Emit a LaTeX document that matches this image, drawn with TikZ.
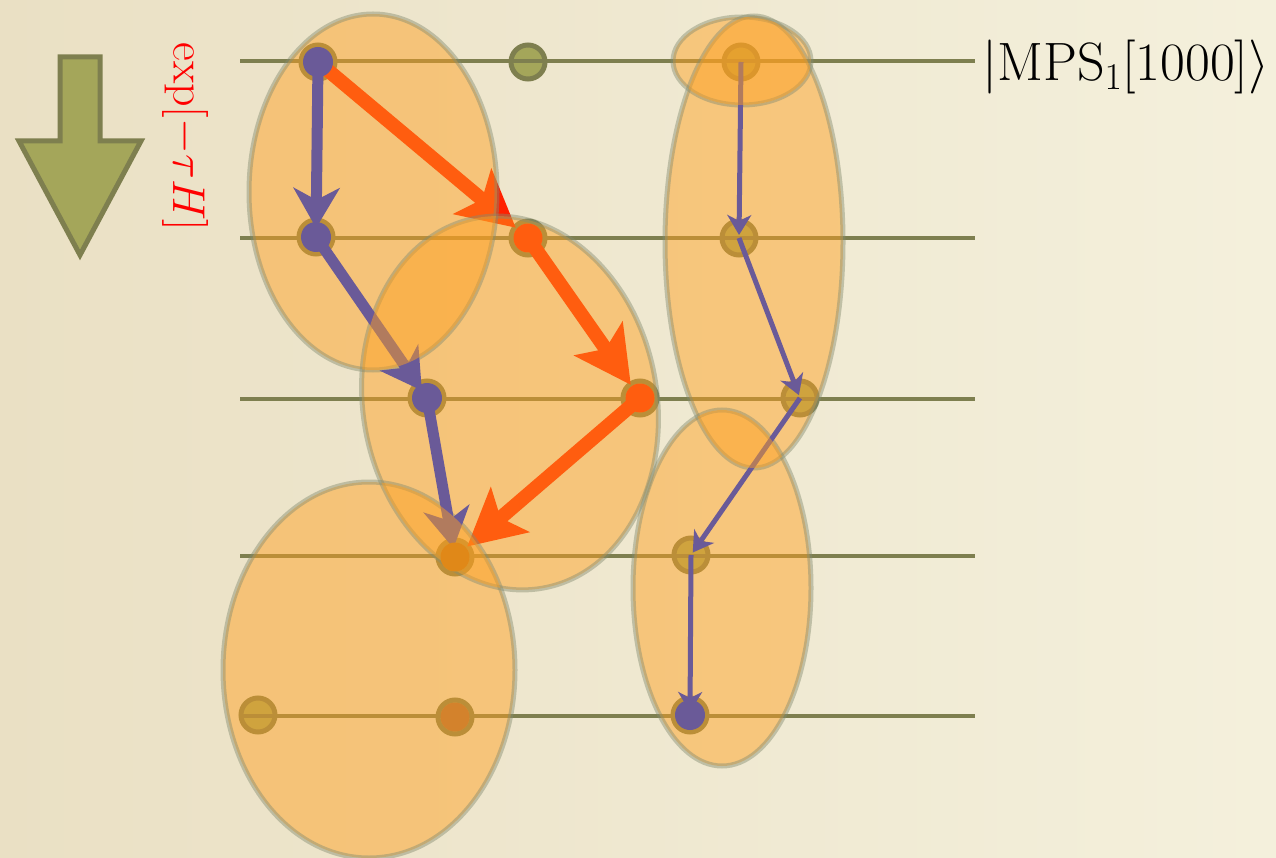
\RequirePackage{fix-cm}
\documentclass[tikz,border=0pt]{standalone}
\usetikzlibrary{arrows.meta}
\definecolor{bgL}{HTML}{EAE0C4}
\definecolor{bgR}{HTML}{F4F0DC}
\definecolor{olive}{HTML}{7E7F4F}
\definecolor{dotfill}{HTML}{A4A65A}
\definecolor{orfill}{HTML}{FFA020}
\definecolor{elldraw}{HTML}{858C70}
\definecolor{purp}{HTML}{6A5A98}
\definecolor{redarr}{HTML}{FF2000}
\definecolor{dotA}{HTML}{E08818}
\definecolor{dotB}{HTML}{D3822C}
\tikzset{
 qdot/.style={circle, minimum size=34pt, inner sep=0pt, outer sep=0pt, fill=dotfill, draw=olive, line width=5pt},
 wire/.style={draw=olive, line width=4.5pt},
 ellfill/.style={fill=orfill, fill opacity=0.48},
 ellline/.style={draw=elldraw, draw opacity=0.45, line width=5pt},
 redarrow/.style={draw=redarr, line width=14pt, -{Stealth[length=56pt,width=58pt,inset=12pt]}, shorten >=16pt},
 purparrow/.style={draw=purp, line width=11pt, -{Stealth[length=40pt,width=46pt,inset=12pt]}, shorten >=9pt},
 thinarrow/.style={draw=purp, line width=5pt, -{Stealth[length=20pt,width=24pt,inset=6pt]}, shorten >=3pt},
}
\begin{document}
\begin{tikzpicture}[x=1pt,y=-1pt]
% background
\shade[left color=bgL, right color=bgR] (0,0) rectangle (1276,858);
\useasboundingbox (0,0) rectangle (1276,858);
% big arrow
\draw[fill=dotfill, draw=olive, line width=5pt, line join=miter] (60,57) -- (100,57) -- (100,141) -- (141,141) -- (80,255) -- (19,141) -- (60,141) -- cycle;
% label
\node[rotate=-90, text=red, inner sep=0pt, font=\fontsize{46}{52}\selectfont] (lbl) at (185,137) {$\exp[-\tau H]$};
% dots
\node[qdot] (r1a) at (318,62) {};
\node[qdot] (r1b) at (528,62) {};
\node[qdot] (r1c) at (741,62) {};
\node[qdot] (r2a) at (316,237) {};
\node[qdot] (r2b) at (528,238) {};
\node[qdot] (r2c) at (739,238) {};
\node[qdot] (r3a) at (427,398) {};
\node[qdot] (r3b) at (640,398) {};
\node[qdot] (r3c) at (800,398) {};
\node[qdot] (r4a) at (455,557) {};
\node[qdot] (r4b) at (691,555) {};
\node[qdot] (r5a) at (258,715) {};
\node[qdot] (r5b) at (455,717) {};
\node[qdot] (r5c) at (690,715) {};
% wires
\coordinate (w1s) at (240,61);  \coordinate (w1e) at (975,61);
\coordinate (w2s) at (240,238); \coordinate (w2e) at (975,238);
\coordinate (w3s) at (240,399); \coordinate (w3e) at (975,399);
\coordinate (w4s) at (240,556); \coordinate (w4e) at (975,556);
\coordinate (w5s) at (240,716); \coordinate (w5e) at (975,716);
\draw[wire] (w1s) -- (w1e);
\draw[wire] (w2s) -- (w2e);
\draw[wire] (w3s) -- (w3e);
\draw[wire] (w4s) -- (w4e);
\draw[wire] (w5s) -- (w5e);
% red dots and arrows (under the ellipses)
\fill[redarr] (r2b) circle (14.5pt);
\fill[redarr] (r3b) circle (14.5pt);
\draw[redarrow] (r1a.center) -- (r2b.center);
\draw[redarrow] (r2b.center) -- (r3b.center);
\draw[redarrow] (r3b.center) -- (r4a.center);
% ellipse fills
\fill[ellfill] (373,192) ellipse [x radius=124, y radius=178];
\fill[ellfill] (742,61) ellipse [x radius=69, y radius=44];
\fill[ellfill] (722,588) ellipse [x radius=89, y radius=178];
\fill[ellfill] (369,670) ellipse [x radius=146, y radius=188];
\begin{scope}
 \clip[rotate around={10:(510,403)}] (510,403) ellipse [x radius=147, y radius=188];
 \fill[ellfill, even odd rule] (0,0) rectangle (1276,858) (373,192) ellipse [x radius=124, y radius=178] (369,670) ellipse [x radius=146, y radius=188];
\end{scope}
\begin{scope}
 \clip (754,242) ellipse [x radius=89, y radius=226];
 \fill[ellfill, even odd rule] (0,0) rectangle (1276,858) (742,61) ellipse [x radius=69, y radius=44] (722,588) ellipse [x radius=89, y radius=178];
\end{scope}
% ellipse outlines
\draw[ellline] (373,192) ellipse [x radius=124, y radius=178];
\draw[ellline] (742,61) ellipse [x radius=69, y radius=44];
\draw[ellline] (722,588) ellipse [x radius=89, y radius=178];
\draw[ellline] (369,670) ellipse [x radius=146, y radius=188];
\draw[ellline, rotate around={10:(510,403)}] (510,403) ellipse [x radius=147, y radius=188];
\draw[ellline] (754,242) ellipse [x radius=89, y radius=226];
% purple arrows
\draw[purparrow] (r1a.center) -- (r2a.center);
\draw[purparrow] (r2a.center) -- (r3a.center);
\draw[purparrow] (r3a.center) -- (r4a.center);
\draw[thinarrow] (r1c.center) -- (r2c.center);
\draw[thinarrow] (r2c.center) -- (r3c.center);
\draw[thinarrow] (r3c.center) -- (r4b.center);
\draw[thinarrow] (r4b.center) -- (r5c.center);
% purple dots
\fill[purp] (r1a) circle (15pt);
\fill[purp] (r2a) circle (15pt);
\fill[purp] (r3a) circle (15pt);
\fill[purp] (r5c) circle (15pt);
% overlap tint above the purple arrows
\begin{scope}
 \clip[rotate around={10:(510,403)}] (510,403) ellipse [x radius=147, y radius=188];
 \fill[ellfill] (373,192) ellipse [x radius=124, y radius=178] (369,670) ellipse [x radius=146, y radius=188];
\end{scope}
\begin{scope}
 \clip (754,242) ellipse [x radius=89, y radius=226];
 \fill[ellfill] (742,61) ellipse [x radius=69, y radius=44] (722,588) ellipse [x radius=89, y radius=178];
\end{scope}
% special dot fills
\fill[dotA] (r4a) circle (14.5pt);
\fill[dotB] (r5b) circle (14.5pt);
% state label
\node[anchor=base west, inner sep=0pt, font=\fontsize{54}{62}\selectfont] (mps) at (982,81) {$|\mathrm{MPS}_1[1000]\rangle$};
\end{tikzpicture}
\end{document}
